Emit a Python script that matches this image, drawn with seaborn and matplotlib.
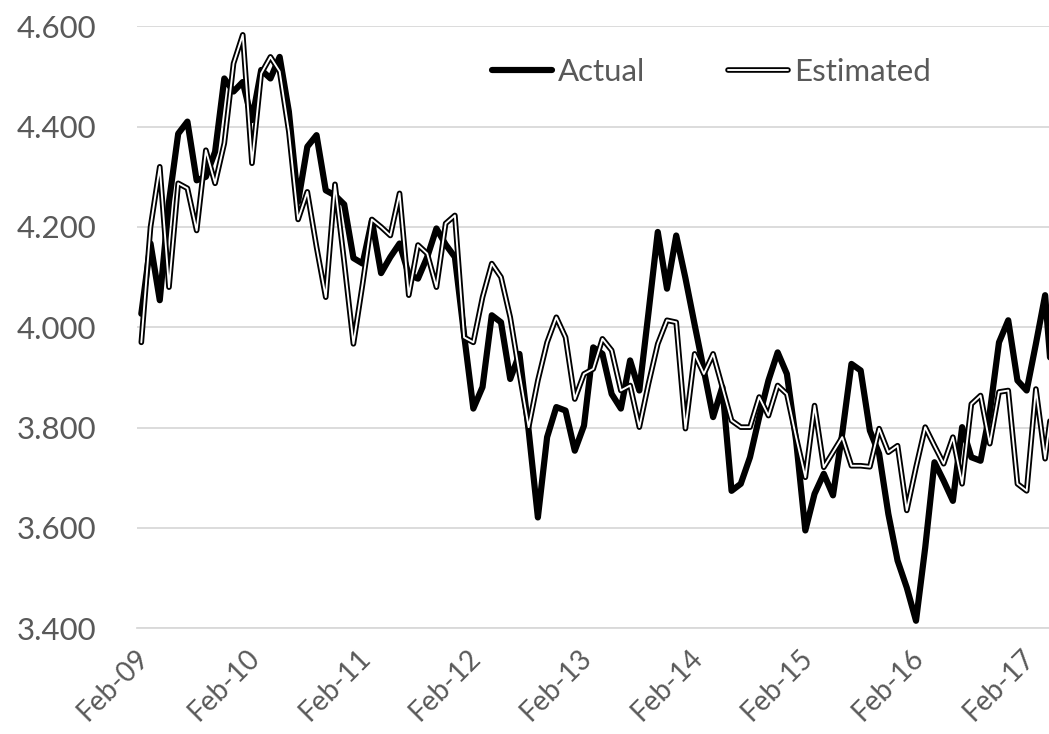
import matplotlib
matplotlib.use("Agg")
import matplotlib.pyplot as plt
import matplotlib.patheffects as pe
import matplotlib.transforms as mtransforms
import seaborn as sns
import numpy as np
import pandas as pd

# ---- data (monthly, starting Feb-09) ----
actual = [4.027, 4.167, 4.054, 4.25, 4.386, 4.410, 4.293, 4.30, 4.35, 4.496,
          4.470, 4.489, 4.413, 4.513, 4.496, 4.539, 4.43, 4.25, 4.36, 4.383,
          4.273, 4.263, 4.245, 4.138, 4.127, 4.213, 4.108, 4.14, 4.167, 4.105,
          4.097, 4.14, 4.197, 4.165, 4.14, 3.985, 3.838, 3.881, 4.024, 4.010,
          3.897, 3.947, 3.794, 3.621, 3.781, 3.841, 3.834, 3.754, 3.804, 3.960,
          3.947, 3.867, 3.838, 3.934, 3.874, 4.03, 4.190, 4.077, 4.183, 4.098,
          4.005, 3.914, 3.821, 3.881, 3.674, 3.688, 3.741, 3.821, 3.894, 3.950,
          3.907, 3.774, 3.595, 3.668, 3.708, 3.665, 3.788, 3.927, 3.914, 3.794,
          3.748, 3.628, 3.535, 3.481, 3.415, 3.561, 3.731, 3.694, 3.654, 3.801,
          3.741, 3.734, 3.83, 3.970, 4.014, 3.894, 3.874, 3.967, 4.064, 3.83]

estimated = [3.970, 4.20, 4.320, 4.080, 4.287, 4.277, 4.193, 4.353, 4.287, 4.367,
             4.526, 4.583, 4.327, 4.506, 4.539, 4.51, 4.39, 4.215, 4.270, 4.16,
             4.060, 4.285, 4.13, 3.967, 4.087, 4.215, 4.20, 4.183, 4.267, 4.064,
             4.164, 4.147, 4.080, 4.207, 4.223, 3.98, 3.970, 4.060, 4.127, 4.100,
             4.020, 3.908, 3.801, 3.894, 3.970, 4.020, 3.980, 3.857, 3.907, 3.917,
             3.977, 3.954, 3.874, 3.884, 3.801, 3.888, 3.967, 4.014, 4.010, 3.798,
             3.947, 3.907, 3.947, 3.881, 3.814, 3.801, 3.801, 3.861, 3.824, 3.884,
             3.867, 3.781, 3.701, 3.844, 3.721, 3.751, 3.781, 3.724, 3.724, 3.722,
             3.798, 3.751, 3.764, 3.635, 3.721, 3.801, 3.764, 3.728, 3.781, 3.688,
             3.847, 3.864, 3.768, 3.871, 3.874, 3.688, 3.674, 3.877, 3.738, 3.88]

tick_labels = ["Feb-09", "Feb-10", "Feb-11", "Feb-12", "Feb-13",
               "Feb-14", "Feb-15", "Feb-16", "Feb-17"]
y_ticks = [3.4, 3.6, 3.8, 4.0, 4.2, 4.4, 4.6]

months = np.arange(len(actual)) + 0.5   # points sit between tick marks
df = pd.DataFrame({"m": months, "Actual": actual, "Estimated": estimated})

sns.set_style("white")
plt.rcParams["font.family"] = ["Lato", "DejaVu Sans"]

W, H = 1049, 734
fig = plt.figure(figsize=(W / 100, H / 100), dpi=100)
left, right, top, bottom = 136.7, 1049, 26.3, 628.3
ax = fig.add_axes([left / W, 1 - bottom / H, (right - left) / W, (bottom - top) / H])

px = 72 / 100  # points per pixel
grid_c = "#d9d9d9"
txt_c = "#595959"
fs = 22.5
fs_x = 20

sns.lineplot(data=df, x="m", y="Actual", ax=ax, color="black", lw=6.2 * px,
             solid_joinstyle="round", solid_capstyle="round", label="Actual",
             legend=False)
sns.lineplot(data=df, x="m", y="Estimated", ax=ax, color="white", lw=1.9 * px,
             solid_joinstyle="round", solid_capstyle="round", label="Estimated",
             legend=False,
             path_effects=[pe.Stroke(linewidth=5.6 * px, foreground="black",
                                     joinstyle="round", capstyle="round"),
                           pe.Normal()])

month_per_px = 110.67 / 12
ax.set_xlim(0, (right - left) / month_per_px)
ax.set_ylim(3.4, 4.6)

ax.set_xticks(np.arange(0, 97, 12))
ax.set_xticklabels(tick_labels, rotation=45, ha="right", va="center",
                   rotation_mode="anchor", color=txt_c, fontsize=fs_x)
ax.set_yticks(y_ticks)
ax.set_yticklabels([f"{v:.3f}" for v in y_ticks], color=txt_c, fontsize=fs)
ax.tick_params(axis="y", length=0, pad=29)
ax.tick_params(axis="x", length=10 * px, width=1.3 * px, color=grid_c, pad=9)

offset = mtransforms.ScaledTranslation(8 / 100, -3 / 100, fig.dpi_scale_trans)
for lbl in ax.get_xticklabels():
    lbl.set_transform(lbl.get_transform() + offset)

ax.set_xlabel("")
ax.set_ylabel("")
ax.yaxis.grid(True, color=grid_c, lw=1.8 * px)
ax.xaxis.grid(False)
ax.set_axisbelow(True)
for s in ["left", "right", "top"]:
    ax.spines[s].set_visible(False)
ax.spines["bottom"].set_color(grid_c)
ax.spines["bottom"].set_linewidth(1.8 * px)

lines = ax.get_lines()
h_act, h_est = lines[0], lines[1]
common = dict(frameon=False, fontsize=fs, borderpad=0, borderaxespad=0,
              handlelength=43.2 / fs, handletextpad=0.2, loc="center left",
              bbox_transform=fig.transFigure, labelcolor=txt_c)
leg1 = ax.legend([h_act], ["Actual"], bbox_to_anchor=(491.7 / W, 1 - 72.3 / H), **common)
ax.add_artist(leg1)
ax.legend([h_est], ["Estimated"], bbox_to_anchor=(728 / W, 1 - 72.3 / H), **common)

fig.savefig("out.png", dpi=100)
